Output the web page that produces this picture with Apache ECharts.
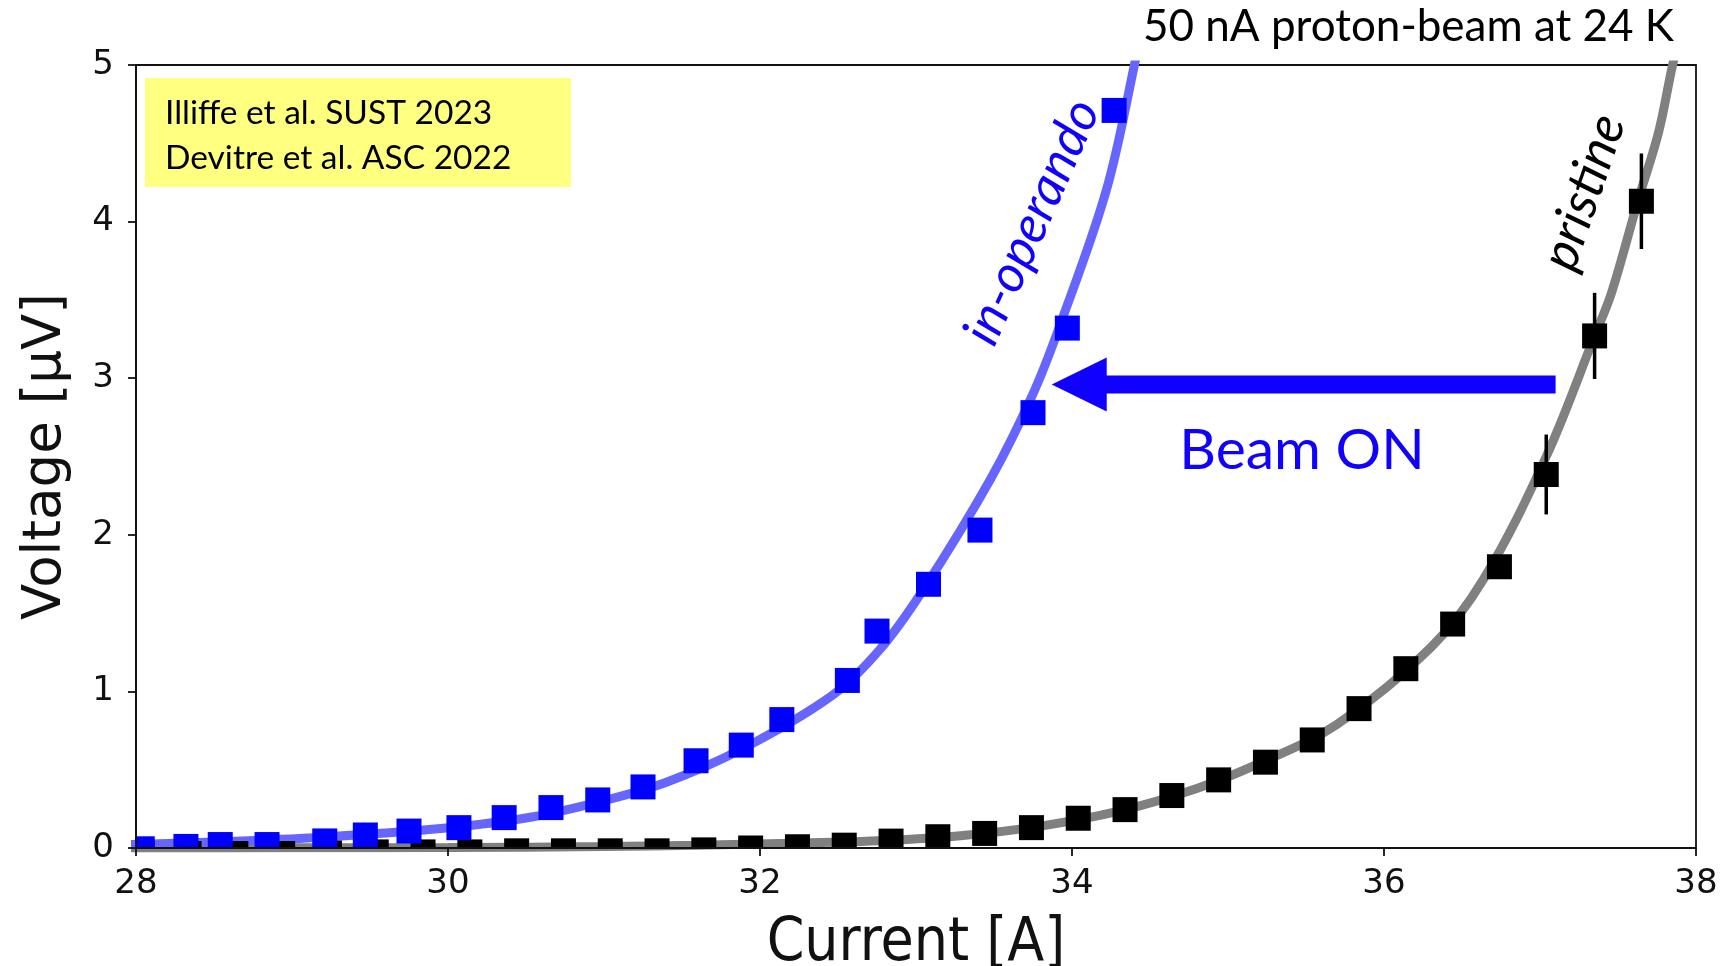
<!DOCTYPE html>
<html>
<head>
<meta charset="utf-8">
<script src="https://cdn.jsdelivr.net/npm/echarts@6/dist/echarts.min.js"></script>
<style>
  html, body { margin: 0; padding: 0; background: #ffffff; }
  #chart { width: 1721px; height: 966px; }
</style>
</head>
<body>
<div id="chart"></div>
<script>
// Axis ranges and ticks
const currentRange = [28, 38];
const currentStep = 2;
const voltageRange = [0, 5];
const voltageStep = 1;

// In-operando (beam on) measurements: current [A], voltage [uV]
const operandoCurrent = [28.04, 28.32, 28.54, 28.84, 29.21, 29.47, 29.75, 30.07, 30.36, 30.66, 30.96,
  31.25, 31.59, 31.88, 32.14, 32.56, 32.75, 33.08, 33.41, 33.75, 33.97, 34.27];
const operandoVoltage = [-0.005, 0.01, 0.022, 0.022, 0.045, 0.083, 0.108, 0.13, 0.194, 0.258, 0.307,
  0.39, 0.557, 0.657, 0.82, 1.07, 1.385, 1.684, 2.03, 2.78, 3.32, 4.71];

// Pristine measurements with uncertainties
const pristineCurrent = [28.04, 28.34, 28.64, 28.94, 29.24, 29.54, 29.84, 30.14, 30.44, 30.74, 31.04,
  31.34, 31.64, 31.94, 32.24, 32.54, 32.84, 33.14, 33.44, 33.74, 34.04, 34.34, 34.64, 34.94, 35.24,
  35.54, 35.84, 36.14, 36.44, 36.74, 37.04, 37.35, 37.65];
const pristineVoltage = [-0.035, -0.035, -0.035, -0.035, -0.032, -0.025, -0.025, -0.025, -0.018, -0.018, -0.018,
  -0.018, -0.012, 0.0, 0.008, 0.018, 0.044, 0.072, 0.093, 0.13, 0.19, 0.245, 0.335, 0.435, 0.548,
  0.69, 0.89, 1.145, 1.43, 1.796, 2.385, 3.27, 4.13];
const pristineError = [0, 0, 0, 0, 0, 0, 0, 0, 0, 0, 0,
  0, 0, 0, 0, 0, 0, 0, 0, 0, 0, 0, 0, 0, 0,
  0, 0, 0, 0, 0, 0.255, 0.275, 0.305];

// Fitted transition curves
const operandoFitCurrent = [27.9, 28.5, 29.1, 29.88, 30.49, 30.97, 31.40, 31.88, 32.47, 32.77, 33.04,
  33.48, 33.75, 33.92, 34.22, 34.40, 34.52];
const operandoFitVoltage = [0.02, 0.038, 0.064, 0.118, 0.19, 0.295, 0.42, 0.63, 0.98, 1.27, 1.64,
  2.36, 2.9, 3.33, 4.2, 5.0, 5.6];
const pristineFitCurrent = [27.9, 29.0, 30.0, 31.0, 31.6, 32.2, 32.8, 33.3, 33.8, 34.3, 34.8, 35.2,
  35.7, 36.3, 36.64, 37.04, 37.35, 37.46, 37.63, 37.76, 37.85, 37.97];
const pristineFitVoltage = [0.0, 0.001, 0.003, 0.009, 0.018, 0.03, 0.048, 0.08, 0.14, 0.235, 0.38, 0.54,
  0.79, 1.28, 1.72, 2.5, 3.27, 3.55, 4.14, 4.57, 5.0, 5.5];

// "Beam ON" shift arrow: tip [A, uV] and tail current [A]
const shiftArrow = [[33.87, 2.96, 37.10]];

const zip = (xs, ys) => xs.map((x, i) => [x, ys[i]]);

const AXIS_FONT = "'DejaVu Sans', sans-serif";
const XTITLE_FONT = "'DejaVu Sans Condensed', 'DejaVu Sans', sans-serif";
const NOTE_FONT = "Lato, 'Open Sans', sans-serif";
const NOTE_BLUE = '#1000ff';

function squareSeries(name, xs, ys, errs, color, z) {
  return {
    type: 'custom',
    name: name,
    clip: true,
    z: z,
    data: xs.map((x, i) => [x, ys[i], errs ? errs[i] : 0]),
    encode: { x: 0, y: 1 },
    renderItem: function (params, api) {
      const x = api.value(0), y = api.value(1), e = api.value(2);
      const c = api.coord([x, y]);
      const kids = [];
      if (e > 0) {
        const top = api.coord([x, y + e]);
        const bot = api.coord([x, y - e]);
        kids.push({
          type: 'line',
          shape: { x1: c[0], y1: top[1], x2: c[0], y2: bot[1] },
          style: { stroke: color, lineWidth: 3.5 }
        });
      }
      kids.push({
        type: 'rect',
        shape: { x: c[0] - 12.5, y: c[1] - 12.5, width: 25, height: 25 },
        style: { fill: color }
      });
      return { type: 'group', children: kids };
    }
  };
}

function fitSeries(name, xs, ys, color, z) {
  return {
    type: 'line',
    name: name,
    data: zip(xs, ys),
    smooth: 0.35,
    showSymbol: false,
    clip: true,
    z: z,
    lineStyle: { color: color, width: 9, cap: 'butt' },
    emphasis: { disabled: true }
  };
}

const arrowSeries = {
  type: 'custom',
  name: 'Beam ON',
  clip: false,
  z: 6,
  data: shiftArrow,
  encode: { x: 0, y: 1 },
  renderItem: function (params, api) {
    const tip = api.coord([api.value(0), api.value(1)]);
    const tail = api.coord([api.value(2), api.value(1)]);
    const headLen = 55, headHalf = 27, shaftHalf = 9;
    return {
      type: 'polygon',
      shape: {
        points: [
          [tip[0], tip[1]],
          [tip[0] + headLen, tip[1] - headHalf],
          [tip[0] + headLen, tip[1] - shaftHalf],
          [tail[0], tip[1] - shaftHalf],
          [tail[0], tip[1] + shaftHalf],
          [tip[0] + headLen, tip[1] + shaftHalf],
          [tip[0] + headLen, tip[1] + headHalf]
        ]
      },
      style: { fill: NOTE_BLUE }
    };
  }
};

const chart = echarts.init(document.getElementById('chart'), null, { renderer: 'canvas' });

chart.setOption({
  animation: false,
  backgroundColor: '#ffffff',
  grid: {
    left: 136, right: 25, top: 65, bottom: 118,
    containLabel: false,
    outerBoundsMode: 'none',
    show: true,
    borderColor: '#111111',
    borderWidth: 1.8,
    backgroundColor: 'transparent'
  },
  xAxis: {
    type: 'value',
    min: currentRange[0], max: currentRange[1], interval: currentStep,
    z: 10,
    name: 'Current [A]',
    nameLocation: 'middle',
    nameGap: 66,
    nameTextStyle: { fontFamily: XTITLE_FONT, fontSize: 60, color: '#111111' },
    axisLine: { show: true, onZero: false, lineStyle: { color: '#111111', width: 1.8 } },
    axisTick: { show: true, inside: false, length: 8, lineStyle: { color: '#111111', width: 1.8 } },
    axisLabel: { fontFamily: AXIS_FONT, fontSize: 34, color: '#111111', margin: 19 },
    splitLine: { show: false }
  },
  yAxis: {
    type: 'value',
    min: voltageRange[0], max: voltageRange[1], interval: voltageStep,
    z: 10,
    name: 'Voltage [μV]',
    nameLocation: 'middle',
    nameGap: 63,
    nameRotate: 90,
    nameTextStyle: { fontFamily: AXIS_FONT, fontSize: 53, color: '#111111' },
    axisLine: { show: true, onZero: false, lineStyle: { color: '#111111', width: 1.8 } },
    axisTick: { show: true, inside: false, length: 8, lineStyle: { color: '#111111', width: 1.8 } },
    axisLabel: { fontFamily: AXIS_FONT, fontSize: 34, color: '#111111', margin: 22 },
    splitLine: { show: false }
  },
  series: [
    fitSeries('pristine fit', pristineFitCurrent, pristineFitVoltage, '#808080', 2),
    fitSeries('in-operando fit', operandoFitCurrent, operandoFitVoltage, '#6666ff', 3),
    squareSeries('pristine', pristineCurrent, pristineVoltage, pristineError, '#000000', 4),
    squareSeries('in-operando', operandoCurrent, operandoVoltage, null, '#0000ff', 5),
    arrowSeries
  ],
  graphic: [
    {
      type: 'rect', z: 20,
      shape: { x: 145, y: 78, width: 426, height: 109 },
      style: { fill: '#ffff80' }
    },
    {
      type: 'text', z: 21, x: 165, y: 113,
      style: { text: 'Illiffe et al. SUST 2023', font: '33.5px ' + NOTE_FONT, fill: '#000000',
        textAlign: 'left', textVerticalAlign: 'middle' }
    },
    {
      type: 'text', z: 21, x: 165, y: 158,
      style: { text: 'Devitre et al. ASC 2022', font: '33.5px ' + NOTE_FONT, fill: '#000000',
        textAlign: 'left', textVerticalAlign: 'middle' }
    },
    {
      type: 'text', z: 21, x: 1674, y: 27,
      style: { text: '50 nA proton-beam at 24 K', font: '44px ' + NOTE_FONT, fill: '#000000',
        textAlign: 'right', textVerticalAlign: 'middle' }
    },
    {
      type: 'text', z: 21, x: 1302, y: 451,
      style: { text: 'Beam ON', font: '57px ' + NOTE_FONT, fill: NOTE_BLUE,
        textAlign: 'center', textVerticalAlign: 'middle' }
    },
    {
      type: 'text', z: 21, x: 1032, y: 222, rotation: 66 * Math.PI / 180,
      style: { text: 'in-operando', font: 'italic 52px ' + NOTE_FONT, fill: NOTE_BLUE,
        textAlign: 'center', textVerticalAlign: 'middle' }
    },
    {
      type: 'text', z: 21, x: 1584, y: 192, rotation: 71 * Math.PI / 180,
      style: { text: 'pristine', font: 'italic 52px ' + NOTE_FONT, fill: '#000000',
        textAlign: 'center', textVerticalAlign: 'middle' }
    }
  ]
});
</script>
</body>
</html>
